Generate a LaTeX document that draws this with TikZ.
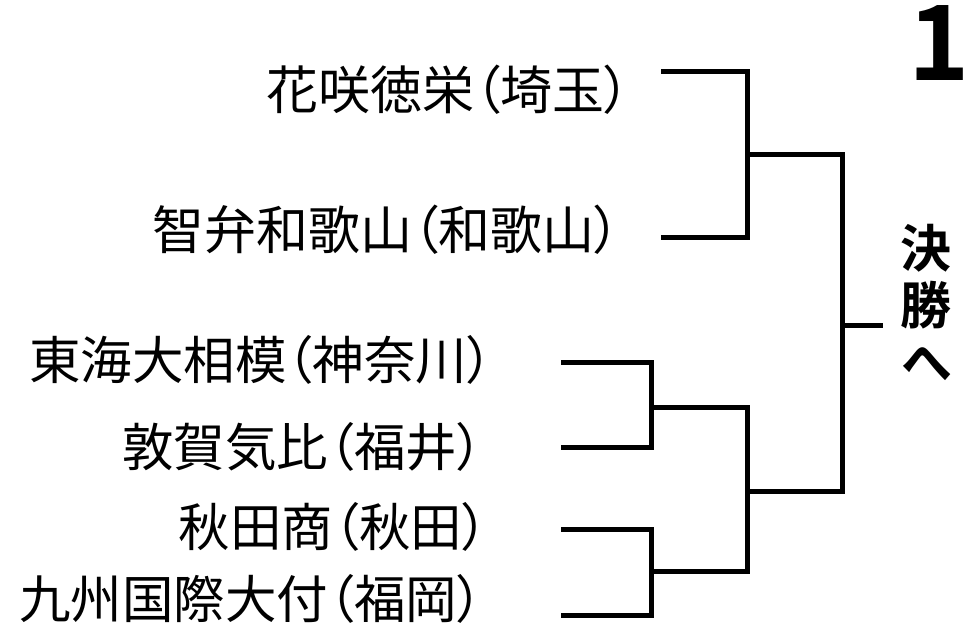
\documentclass[tikz,border=0pt]{standalone}
\usepackage{fontspec}
\setmainfont{Noto Sans CJK JP}[RawFeature={+palt},BoldFont={Noto Sans CJK JP Bold}]
\usetikzlibrary{positioning}

\begin{document}
\begin{tikzpicture}[x=1pt, y=-1pt,
		team/.style={inner sep=0pt, anchor=base east, font=\fontsize{52}{52}\selectfont},
		lower/.style={font=\fontsize{51.5}{52}\selectfont},
		bracket/.style={line width=5pt, line join=miter}]
			\useasboundingbox (0,0) rectangle (969,641);
			\node[team] (Hanasaki) at (631,109) {花咲徳栄（埼玉）};
			\node[team] (Chiben) at (621,249) {智弁和歌山（和歌山）};
			\node[team, lower] (Tokai) at (493,379) {東海大相模（神奈川）};
			\node[team, lower] (Tsuruga) at (483,466) {敦賀気比（福井）};
			\node[team, lower] (Akita) at (488,546) {秋田商（秋田）};
			\node[team, lower] (Kyushu) at (483,618) {九州国際大付（福岡）};
			\coordinate (e1) at (661,71);
			\coordinate (e2) at (661,237);
			\coordinate (e3) at (561,362);
			\coordinate (e4) at (561,447);
			\coordinate (e5) at (561,529);
			\coordinate (e6) at (561,615);
			\coordinate (a1) at (747,154);
			\coordinate (a2) at (651,407);
			\coordinate (a3) at (651,571);
			\coordinate (b1) at (747,491);
			\coordinate (sf) at (842,325);
			\coordinate (fin) at (883,325);
			\draw [bracket] (e1) -| (a1) |- (e2);
			\draw [bracket] (e3) -| (a2) |- (e4);
			\draw [bracket] (e5) -| (a3) |- (e6);
			\draw [bracket] (a2) -| (b1) |- (a3);
			\draw [bracket] (a1) -| (sf) |- (b1);
			\draw [bracket] (sf) -- (fin);
			\node[inner sep=0pt, anchor=north, align=center, font=\bfseries\fontsize{51}{57}\selectfont] (Final) at (926,224) {決\\勝\\へ};
			\node[inner sep=0pt, anchor=base, text height=70pt, text depth=0pt, font=\bfseries\fontsize{104}{104}\selectfont] (Block) at (939,80) {1};
		\end{tikzpicture}
\end{document}
